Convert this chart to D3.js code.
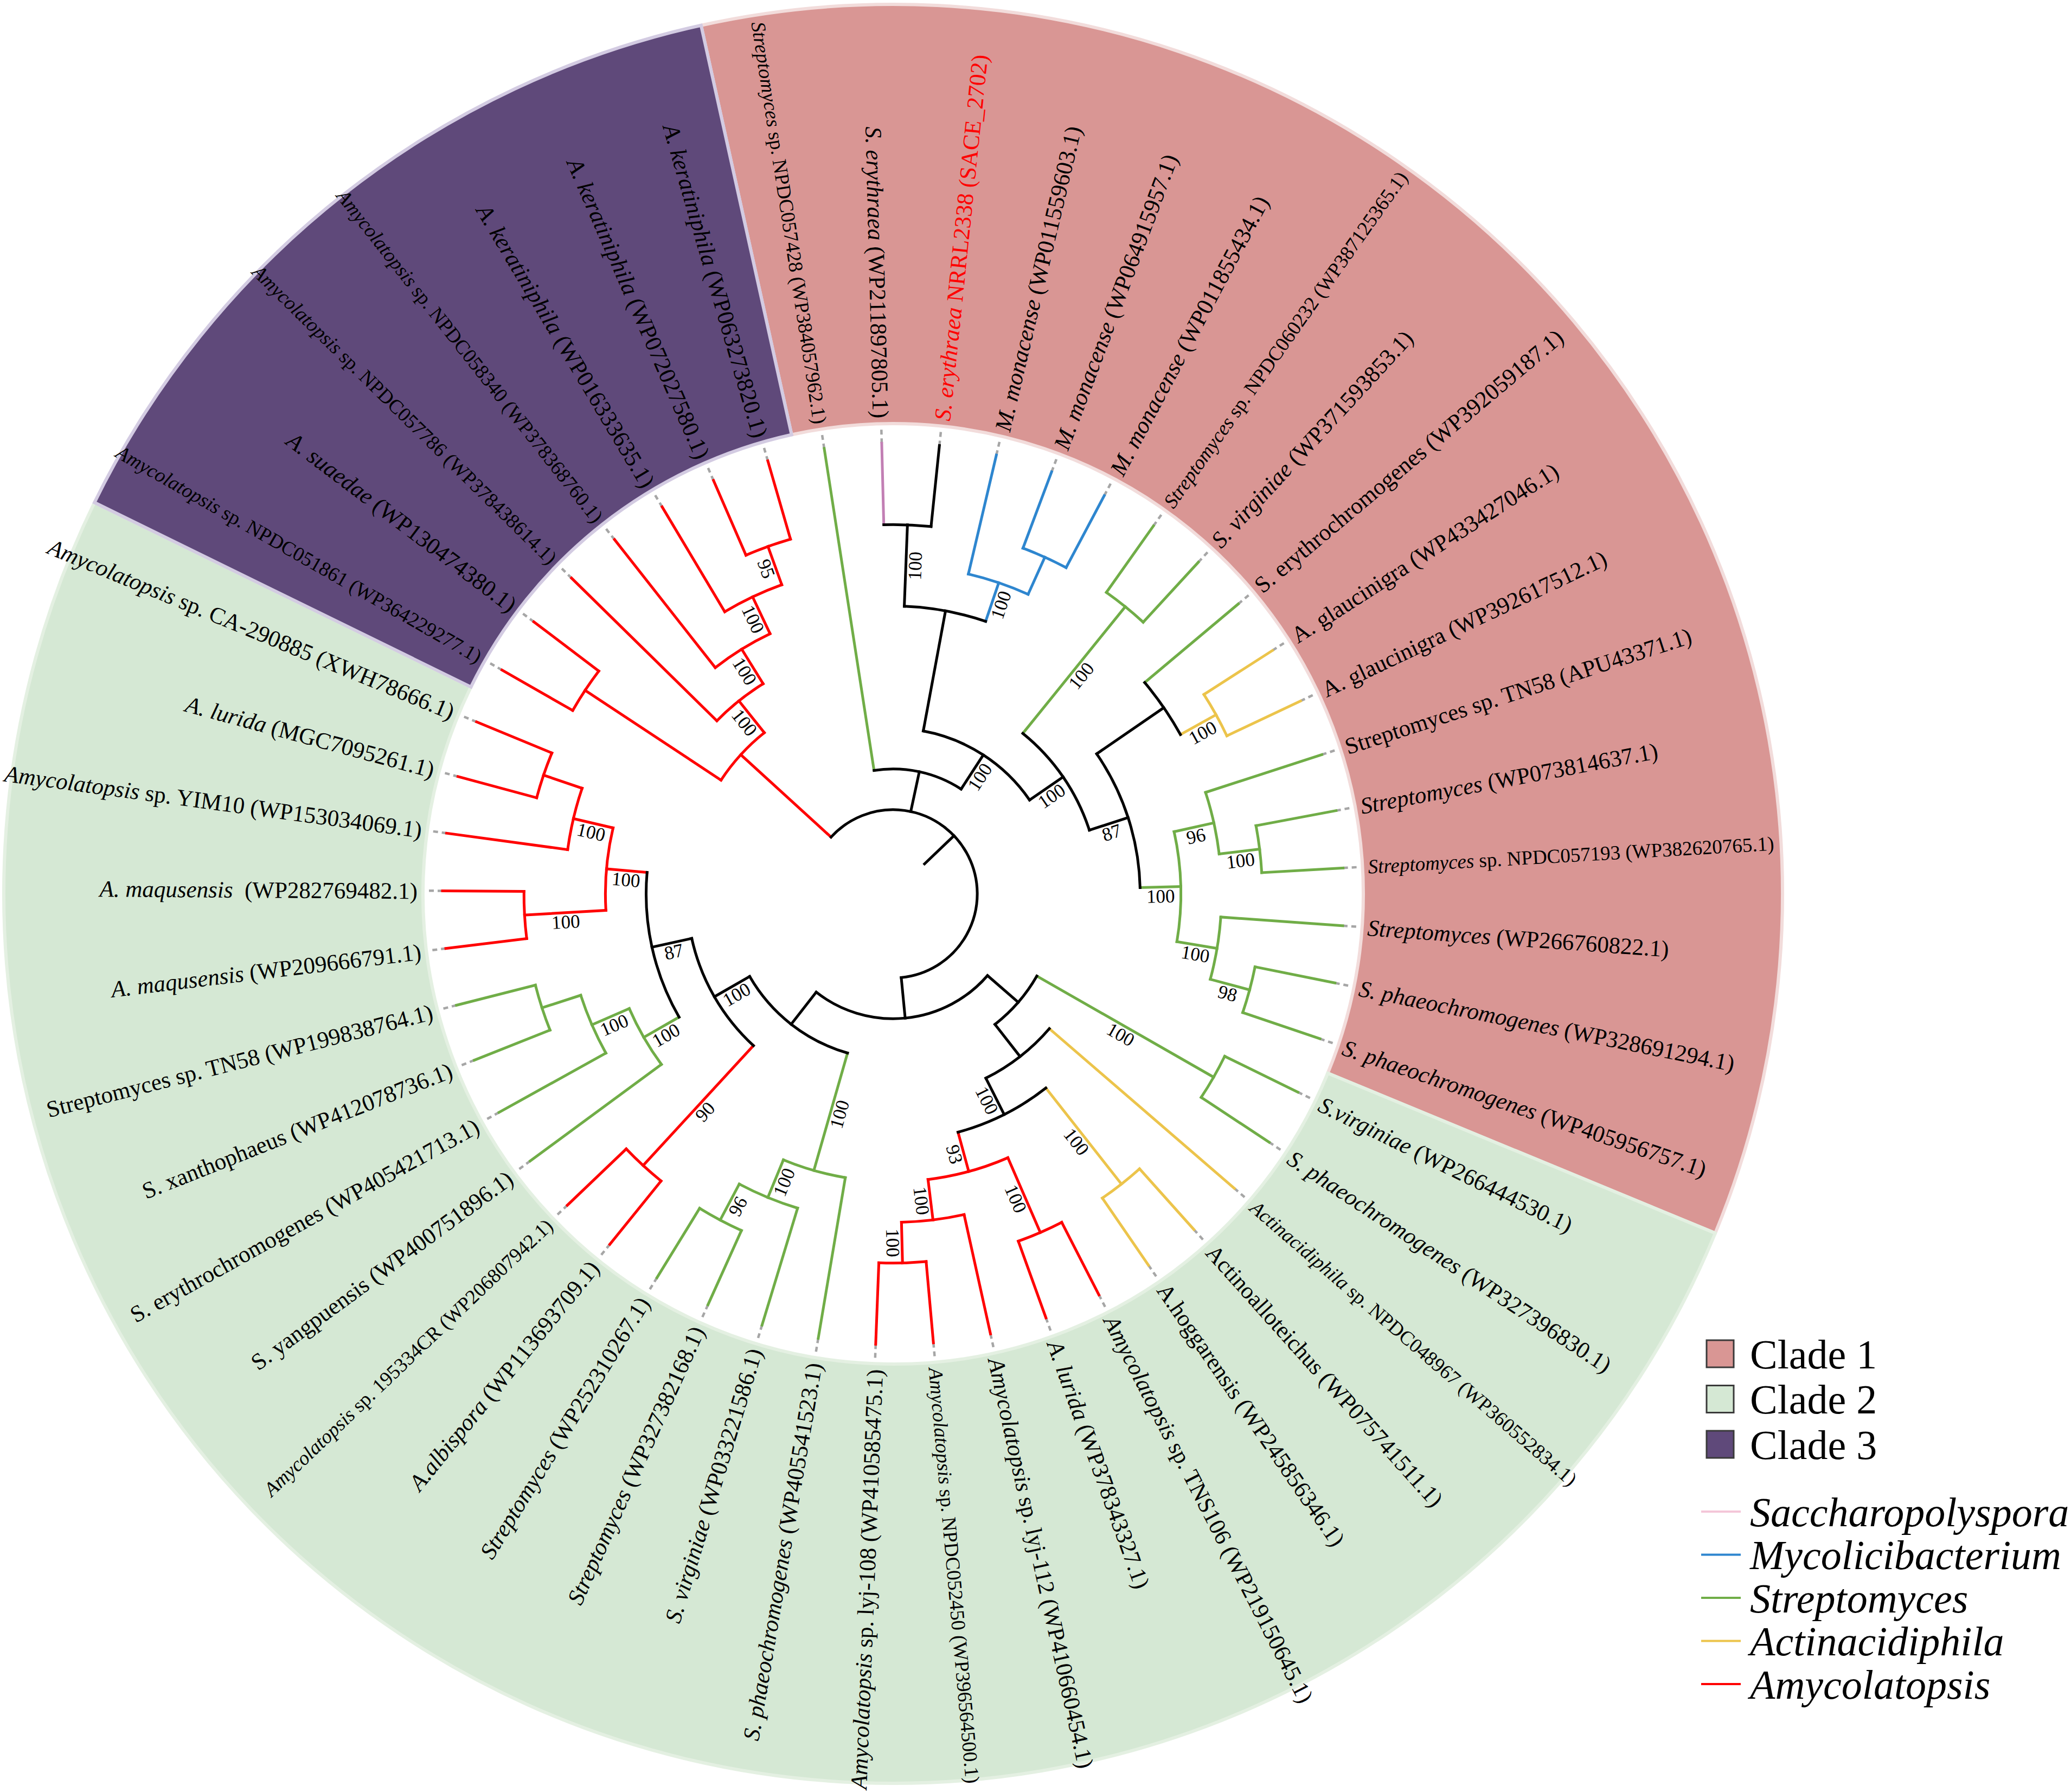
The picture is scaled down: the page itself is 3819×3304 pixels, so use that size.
<!DOCTYPE html>
<html>
<head>
<meta charset="utf-8">
<script src="https://cdn.jsdelivr.net/npm/d3@7"></script>
<style>
  html, body { margin: 0; padding: 0; background: #fff; }
  svg { display: block; }
  text { font-family: "Liberation Serif", "Times New Roman", serif; white-space: pre; }
</style>
</head>
<body>
<div id="chart"></div>
<script>
const width = 3819,
  height = 3304;
const cx = 1647,
  cy = 1648;

// leaves are numbered 1..49 clockwise, starting just left of the top
const leafItalic = [
  'Streptomyces', 'S. erythraea', 'S. erythraea', 'M. monacense', 'M. monacense',
  'M. monacense', 'Streptomyces', 'S. virginiae', '', '',
  '', '', 'Streptomyces', 'Streptomyces', 'Streptomyces',
  'S. phaeochromogenes', 'S. phaeochromogenes', 'S.virginiae', 'S. phaeochromogenes', 'Actinacidiphila',
  '', '', 'Amycolatopsis', 'A. lurida', 'Amycolatopsis',
  'Amycolatopsis', 'Amycolatopsis', 'S. phaeochromogenes', 'S. virginiae', 'Streptomyces',
  'Streptomyces', 'A.albispora', 'Amycolatopsis', '', '',
  '', '', 'A. maqusensis', 'A. maqusensis', 'Amycolatopsis',
  'A. lurida', 'Amycolatopsis', 'Amycolatopsis', 'A. suaedae', 'Amycolatopsis',
  'Amycolatopsis', 'A. keratiniphila', 'A. keratiniphila', 'A. keratiniphila'
];
const leafRest = [
  ' sp. NPDC057428 (WP384057962.1)', ' (WP211897805.1)', ' NRRL2338 (SACE_2702)', ' (WP011559603.1)', ' (WP064915957.1)',
  ' (WP011855434.1)', ' sp. NPDC060232 (WP387125365.1)', ' (WP371593853.1)', 'S. erythrochromogenes (WP392059187.1)', 'A. glaucinigra (WP433427046.1)',
  'A. glaucinigra (WP392617512.1)', 'Streptomyces sp. TN58 (APU43371.1)', ' (WP073814637.1)', ' sp. NPDC057193 (WP382620765.1)', ' (WP266760822.1)',
  ' (WP328691294.1)', ' (WP405956757.1)', ' (WP266444530.1)', ' (WP327396830.1)', ' sp. NPDC048967 (WP360552834.1)',
  'Actinoalloteichus (WP075741511.1)', 'A.hoggarensis (WP245856346.1)', ' sp. TNS106 (WP219150645.1)', ' (WP378343327.1)', ' sp. lyj-112 (WP410660454.1)',
  ' sp. NPDC052450 (WP396564500.1)', ' sp. lyj-108 (WP410585475.1)', ' (WP405541523.1)', ' (WP033221586.1)', ' (WP327382168.1)',
  ' (WP252310267.1)', ' (WP113693709.1)', ' sp. 195334CR (WP206807942.1)', 'S. yangpuensis (WP400751896.1)', 'S. erythrochromogenes (WP405421713.1)',
  'S. xanthophaeus (WP412078736.1)', 'Streptomyces sp. TN58 (WP199838764.1)', ' (WP209666791.1)', '  (WP282769482.1)', ' sp. YIM10 (WP153034069.1)',
  ' (MGC7095261.1)', ' sp. CA-290885 (XWH78666.1)', ' sp. NPDC051861 (WP364229277.1)', ' (WP130474380.1)', ' sp. NPDC057786 (WP378438614.1)',
  ' sp. NPDC058340 (WP378368760.1)', ' (WP016333635.1)', ' (WP072027580.1)', ' (WP063273820.1)'
];
// genus of each leaf (index into genera), -1 = the query sequence
const leafGenus = [
  2, 0, -1, 1, 1, 1, 2, 2, 2, 3,
  3, 2, 2, 2, 2, 2, 2, 2, 2, 3,
  3, 3, 4, 4, 4, 4, 4, 2, 2, 2,
  2, 4, 4, 2, 2, 2, 2, 4, 4, 4,
  4, 4, 4, 4, 4, 4, 4, 4, 4
];
const smallLabels = [1, 7, 14, 20, 26, 33, 43, 45, 46];
const queryLeaf = 3;

const genera = ['Saccharopolyspora', 'Mycolicibacterium', 'Streptomyces', 'Actinacidiphila', 'Amycolatopsis'];
const genusColors = ['#c27fb4', '#2e86cf', '#70ad47', '#ecc44b', '#ff0000'];
const legendLineColors = ['#f4c6d8', '#2e86cf', '#70ad47', '#ecc44b', '#ff0000'];

const clades = ['Clade 1', 'Clade 2', 'Clade 3'];
const cladeFill = ['#d99694', '#d5e8d4', '#5f497a'];
const cladeEdge = ['#f2dcdb', '#e4f0e2', '#d3cbe2'];
const cladeFirstLeaf = [1, 18, 43];
const cladeLastLeaf = [17, 42, 49];

// topology: leaf numbers, bootstrap support after each closing parenthesis
const newick = `(
  ((43,44),(45,(46,(47,(48,49)95)100)100)100),
  (1,(((2,3)100,(4,(5,6))100),((7,8)100,((9,(10,11)100),((12,(13,14)100)96,(15,(16,17)98)100)100)87)100)100),
  (((18,19)100,(20,((21,22)100,((23,24)100,(25,(26,27)100)100)93)100)),
   ((28,(29,(30,31)96)100)100,((32,33)90,((34,(35,(36,37))100)100,((38,39)100,(40,(41,42))100)100)87)100))
)`;

function parseNewick(s) {
  let i = 0;
  function node() {
    const n = {};
    if (s[i] === '(') {
      i++;
      n.children = [node()];
      while (s[i] === ',') {
        i++;
        n.children.push(node());
      }
      i++;
    }
    let tok = '';
    while (i < s.length && !',()'.includes(s[i])) tok += s[i++];
    if (n.children) {
      if (tok) n.support = +tok;
    } else n.leaf = +tok;
    return n;
  }
  return node();
}

const svg = d3
  .select('#chart')
  .append('svg')
  .attr('width', width)
  .attr('height', height);

svg.append('rect').attr('width', width).attr('height', height).attr('fill', '#fff');

const tree = d3.hierarchy(parseNewick(newick.replace(/\s+/g, '')));
d3.cluster().size([360, 1]).separation(() => 1)(tree);

const H = tree.height;
const nLeaves = tree.leaves().length;
const step = 360 / nLeaves;
const firstLeafAngle = -8.8;
const leaf1 = tree.leaves().find(d => d.data.leaf === 1);
const rotation = firstLeafAngle - leaf1.x;

const angle = d => d.x + rotation;
const level = d => (d.children ? H - d.height : H + 1);
const radius = d3.scaleLinear().domain([-1, H + 1]).range([80, 831]);
const ringInner = 867,
  ringOuter = 1640;

const rad = a => (a * Math.PI) / 180;
const point = (a, r) => [cx + r * Math.sin(rad(a)), cy - r * Math.cos(rad(a))];
const leafAngle = n => firstLeafAngle + (n - 1) * step;

// branch colour: genus when every leaf below is of one genus, else black
tree.eachAfter(d => {
  if (!d.children) d.key = leafGenus[d.data.leaf - 1];
  else {
    const k = d.children[0].key;
    d.key = d.children.every(c => c.key === k) ? k : -1;
  }
});
const colorOf = d => (d.key < 0 ? '#000' : genusColors[d.key]);

// clade sectors
const sectorArc = d3.arc().innerRadius(ringInner).outerRadius(ringOuter);
const sectors = svg.append('g').attr('transform', `translate(${cx},${cy})`);
clades.forEach((c, i) => {
  sectors
    .append('path')
    .attr(
      'd',
      sectorArc({
        startAngle: rad(leafAngle(cladeFirstLeaf[i]) - step / 2),
        endAngle: rad(leafAngle(cladeLastLeaf[i]) + step / 2)
      })
    )
    .attr('fill', cladeFill[i])
    .attr('stroke', cladeEdge[i])
    .attr('stroke-width', 6);
});

// dotted leaders from tips to the ring
const leaves = tree.leaves();
svg
  .append('g')
  .selectAll('line')
  .data(leaves)
  .join('line')
  .attr('x1', d => point(angle(d), radius(H + 1))[0])
  .attr('y1', d => point(angle(d), radius(H + 1))[1])
  .attr('x2', d => point(angle(d), ringInner - 4)[0])
  .attr('y2', d => point(angle(d), ringInner - 4)[1])
  .attr('stroke', '#a6a6a6')
  .attr('stroke-width', 4.5)
  .attr('stroke-dasharray', '9 7');

const branches = svg.append('g').attr('fill', 'none').attr('stroke-width', 5).attr('stroke-linecap', 'square');

// radial segments
branches
  .selectAll('.radial')
  .data(tree.descendants().filter(d => d.parent))
  .join('line')
  .attr('class', 'radial')
  .attr('x1', d => point(angle(d), radius(level(d.parent)))[0])
  .attr('y1', d => point(angle(d), radius(level(d.parent)))[1])
  .attr('x2', d => point(angle(d), radius(level(d)))[0])
  .attr('y2', d => point(angle(d), radius(level(d)))[1])
  .attr('stroke', colorOf);

// arcs joining the children of each node
function arcPath(r, a0, a1) {
  const p = d3.path();
  p.arc(cx, cy, r, rad(a0 - 90), rad(a1 - 90));
  return p.toString();
}
branches
  .selectAll('.arc')
  .data(tree.descendants().filter(d => d.children))
  .join('path')
  .attr('class', 'arc')
  .attr('d', d =>
    arcPath(radius(level(d)), angle(d.children[0]), angle(d.children[d.children.length - 1]))
  )
  .attr('stroke', colorOf);

// root stub
branches
  .append('line')
  .attr('x1', point(angle(tree), radius(-1))[0])
  .attr('y1', point(angle(tree), radius(-1))[1])
  .attr('x2', point(angle(tree), radius(0))[0])
  .attr('y2', point(angle(tree), radius(0))[1])
  .attr('stroke', '#000');

// text orientation: outward on the right half, flipped on the left half
function orient(a) {
  const n = ((a % 360) + 360) % 360;
  return n < 180 ? { rot: n - 90, right: true } : { rot: n + 90, right: false };
}

// leaf labels
const labels = svg.append('g');
leaves.forEach(d => {
  const n = d.data.leaf;
  const a = angle(d);
  const o = orient(a);
  const [x, y] = point(a, ringInner + 10);
  const t = labels
    .append('text')
    .attr('transform', `translate(${x},${y}) rotate(${o.rot})`)
    .attr('text-anchor', o.right ? 'start' : 'end')
    .attr('dy', '0.35em')
    .attr('font-size', smallLabels.includes(n) ? 37 : 43)
    .attr('fill', n === queryLeaf ? '#ff0000' : '#000');
  if (leafItalic[n - 1]) t.append('tspan').attr('font-style', 'italic').text(leafItalic[n - 1]);
  t.append('tspan').text(leafRest[n - 1]);
});

// bootstrap support on the stems
const support = svg.append('g');
tree
  .descendants()
  .filter(d => d.parent && d.data.support !== undefined)
  .forEach(d => {
    const a = angle(d);
    const o = orient(a);
    const r = (radius(level(d.parent)) + radius(level(d))) / 2;
    const [x, y] = point(a, r);
    support
      .append('text')
      .attr('transform', `translate(${x},${y}) rotate(${o.rot})`)
      .attr('text-anchor', 'middle')
      .attr('dy', '0.82em')
      .attr('font-size', 35)
      .text(d.data.support);
  });

// legend
const legend = svg.append('g').attr('font-size', 76);
clades.forEach((c, i) => {
  const y = 2496 + i * 83.5;
  legend
    .append('rect')
    .attr('x', 3147)
    .attr('y', y - 25)
    .attr('width', 50)
    .attr('height', 50)
    .attr('fill', cladeFill[i])
    .attr('stroke', '#3a3a3a')
    .attr('stroke-width', 3);
  legend.append('text').attr('x', 3227).attr('y', y).attr('dy', '0.35em').text(c);
});
genera.forEach((g, i) => {
  const y = 2787 + i * 79.5;
  legend
    .append('line')
    .attr('x1', 3137)
    .attr('x2', 3210)
    .attr('y1', y)
    .attr('y2', y)
    .attr('stroke', legendLineColors[i])
    .attr('stroke-width', 4);
  legend
    .append('text')
    .attr('x', 3227)
    .attr('y', y)
    .attr('dy', '0.35em')
    .attr('font-style', 'italic')
    .text(g);
});
</script>
</body>
</html>
